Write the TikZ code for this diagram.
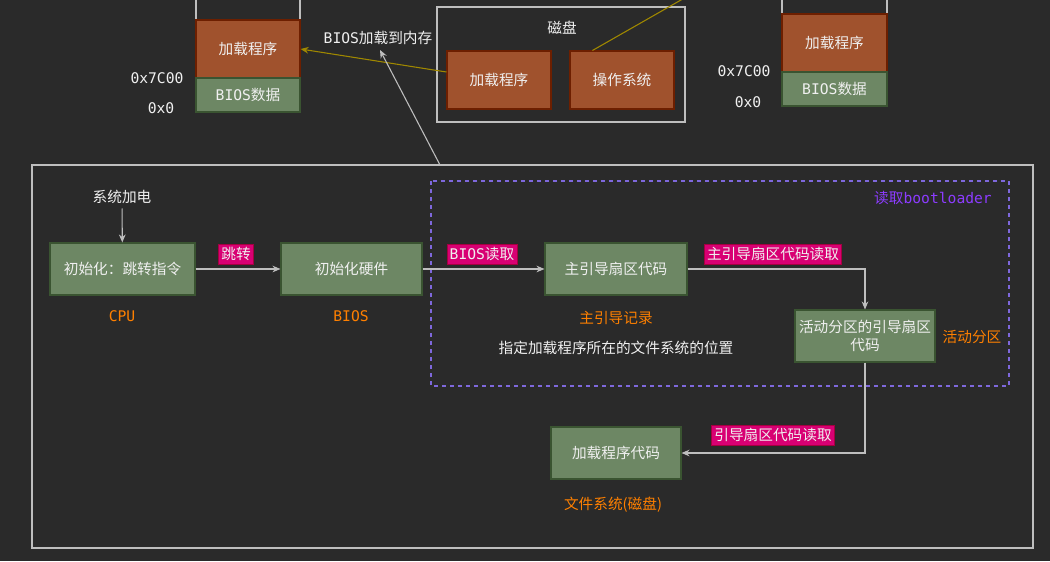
\documentclass[tikz,border=0pt]{standalone}
\usepackage{fontspec}
\setmainfont{Noto Sans CJK SC}
\newfontfamily\mono{DejaVu Sans Mono}
\usetikzlibrary{arrows.meta, positioning, calc}
\definecolor{bgcolor}{RGB}{42, 42, 42}
\definecolor{greenfill}{RGB}{109, 135, 100}
\definecolor{greendraw}{RGB}{58, 84, 49}
\definecolor{orangefill}{RGB}{160, 82, 45}
\definecolor{orangedraw}{RGB}{109, 31, 0}
\definecolor{tagfill}{RGB}{216, 0, 115}
\definecolor{tagdraw}{RGB}{165, 0, 64}
\definecolor{notecolor}{RGB}{255, 128, 0}
\definecolor{bootcolor}{RGB}{140, 60, 255}
\definecolor{dashcolor}{RGB}{126, 104, 220}
\definecolor{olivecolor}{RGB}{160, 136, 0}
\definecolor{linecolor}{RGB}{190, 190, 190}
\definecolor{textcolor}{RGB}{240, 240, 240}

\begin{document}
\begin{tikzpicture}[
    x=0.75pt, y=-0.75pt,
    >={Stealth[length=6pt, width=5pt]},
    every node/.style={font=\fontsize{11}{13}\selectfont, text=textcolor},
    box/.style={rectangle, draw=greendraw, fill=greenfill, line width=0.8pt, minimum height=39pt, align=center, inner sep=1pt},
    mem/.style={rectangle, draw=orangedraw, fill=orangefill, line width=0.8pt, minimum width=78pt, minimum height=43.5pt},
    memdata/.style={rectangle, draw=greendraw, fill=greenfill, line width=0.8pt, minimum width=78pt, minimum height=25.5pt},
    tag/.style={rectangle, draw=tagdraw, fill=tagfill, inner xsep=2pt, inner ysep=1pt, minimum height=15pt},
    note/.style={text=notecolor},
    addr/.style={font=\mono\fontsize{11}{13}\selectfont},
    arrow/.style={->, draw=linecolor, line width=0.8pt}
]

% Background
\fill[bgcolor] (0,0) rectangle (1050,561);
\useasboundingbox (0,0) rectangle (1050,561);

% Memory before loading
\draw[linecolor, line width=0.8pt] (196,-5) rectangle (300,20);
\node[mem] (mload) at (248,49) {加载程序};
\node[memdata] (mbios) at (248,95) {{\mono BIOS}数据};
\node[addr] at (157,78) {0x7C00};
\node[addr] at (161,108) {0x0};

% Memory after loading
\draw[linecolor, line width=0.8pt] (782,-5) rectangle (887,14);
\node[mem, minimum width=78.75pt] (rload) at (834.5,43) {加载程序};
\node[memdata, minimum width=78.75pt] (rbios) at (834.5,89) {{\mono BIOS}数据};
\node[addr] at (744,71) {0x7C00};
\node[addr] at (748,102) {0x0};

% Disk
\draw[linecolor, line width=0.8pt] (437,7) rectangle (685,122);
\node at (562,28) {磁盘};
\node[mem] (dload) at (499,80) {加载程序};
\node[mem] (dos) at (622,80) {操作系统};
\coordinate (offtop) at (695,-8);
\draw[olivecolor, line width=0.8pt] ($(dos.north west)+(23,0)$) -- (offtop);

% Load into memory
\draw[->, olivecolor, line width=0.8pt] ($(dload.west)+(0,-8)$) -- (mload.east);
\node at (378,38) {{\mono BIOS}加载到内存};

% Outer frame
\draw[linecolor, line width=0.8pt] (32,165) rectangle (1033,548);
\coordinate (frametop) at (440,165);
\coordinate (memlabel) at (380,50);
\draw[arrow] (frametop) -- (memlabel);

% Bootloader region
\draw[dashcolor, dashed, line width=0.8pt] (431,181) rectangle (1009,386);
\node[text=bootcolor] at (933,198) {读取{\mono bootloader}};

% CPU
\node (power) at (122,197) {系统加电};
\node[box, minimum width=108.75pt] (cpu) at (122.5,269) {初始化：跳转指令};
\node[note, font=\mono\fontsize{11}{13}\selectfont] at (122,316) {CPU};

% BIOS
\node[box, minimum width=105.75pt] (bios) at (351.5,269) {初始化硬件};
\node[note, font=\mono\fontsize{11}{13}\selectfont] at (351,316) {BIOS};

% MBR
\node[box, minimum width=106.5pt] (mbr) at (616,269) {主引导扇区代码};
\node[note] at (616,318) {主引导记录};
\node at (616,348) {指定加载程序所在的文件系统的位置};

% Active partition
\node[box, minimum width=105pt] (vbr) at (865,336) {活动分区的引导扇区\\代码};
\node[note] at (972,337) {活动分区};

% File system
\node[box, minimum width=97.5pt] (loader) at (616,453) {加载程序代码};
\node[note] at (613,505) {文件系统(磁盘)};

% Arrows
\draw[arrow] (power) -- (cpu);
\draw[arrow] (cpu) -- (bios);
\draw[arrow] (bios) -- (mbr);
\draw[arrow] (mbr.east) -| (vbr.north);
\draw[arrow] (vbr.south) |- (loader.east);

% Tags
\node[tag] at (236,254) {跳转};
\node[tag] at (482,254) {{\mono BIOS}读取};
\node[tag] at (773,254) {主引导扇区代码读取};
\node[tag] at (773,435) {引导扇区代码读取};

\end{tikzpicture}
\end{document}
